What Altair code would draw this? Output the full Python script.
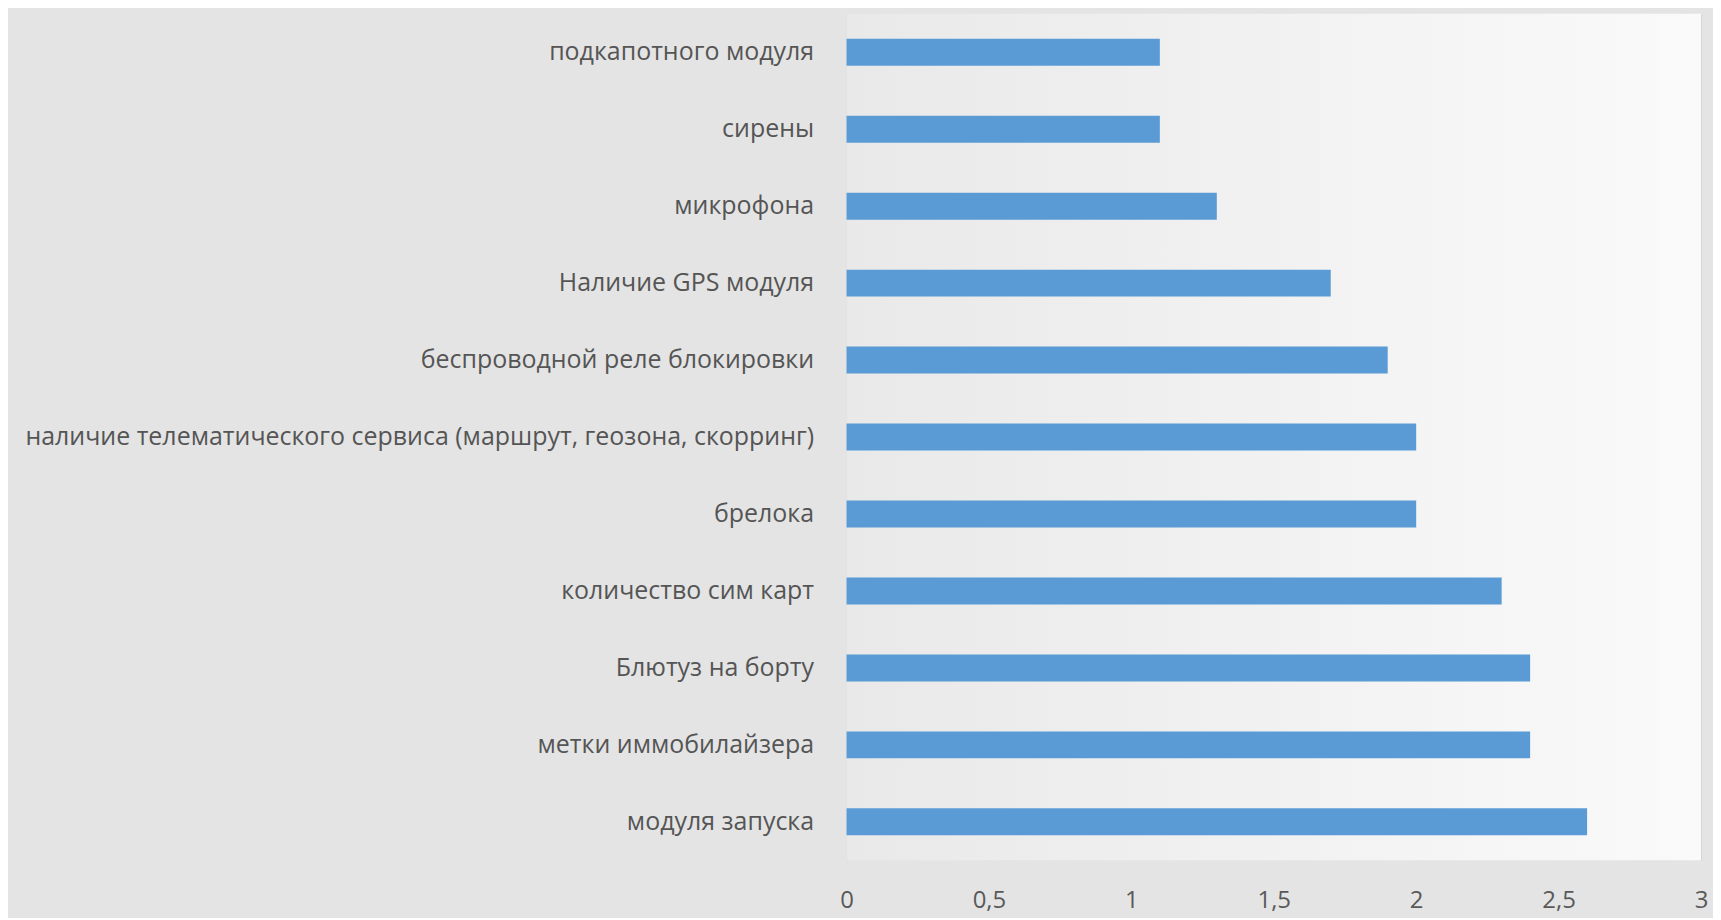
import altair as alt
import pandas as pd

categories = [
    "подкапотного модуля",
    "сирены",
    "микрофона",
    "Наличие GPS модуля",
    "беспроводной реле блокировки",
    "наличие телематического сервиса (маршрут, геозона, скорринг)",
    "брелока",
    "количество сим карт",
    "Блютуз на борту",
    "метки иммобилайзера",
    "модуля запуска",
]
values = [1.1, 1.1, 1.3, 1.7, 1.9, 2.0, 2.0, 2.3, 2.4, 2.4, 2.6]
ticks = [0, 0.5, 1, 1.5, 2, 2.5, 3]

df = pd.DataFrame({"category": categories, "value": values})

W, H = 856, 848

bg = alt.Chart(pd.DataFrame({"d": [0]})).mark_rect(
    color=alt.Gradient(
        gradient="linear",
        stops=[alt.GradientStop(color="#e9e9e9", offset=0),
               alt.GradientStop(color="#fafafa", offset=1)],
        x1=0, x2=1, y1=0, y2=0,
    )
).encode(x=alt.value(0), x2=alt.value("width"), y=alt.value(0), y2=alt.value("height"))

bars = alt.Chart(df).mark_bar(color="#5B9BD5", size=27).encode(
    x=alt.X("value:Q", scale=alt.Scale(domain=[0, 3]),
            axis=alt.Axis(values=ticks, title=None,
                          labelExpr="replace(toString(datum.value), '.', ',')",
                          grid=True, gridColor="#d4d4d4", domain=False, ticks=False,
                          labelFlush=False,
                          labelFontSize=24, labelColor="#595959", labelPadding=28,
                          labelFont="Open Sans")),
    y=alt.Y("category:N", sort=categories, title=None,
            axis=alt.Axis(domain=False, ticks=False, labelFontSize=25,
                          labelColor="#555555", labelPadding=33, labelLimit=900,
                          labelFont="Open Sans")),
)

chart = alt.layer(bg, bars).properties(
    width=W, height=H,
    background="#e4e4e4",
    padding={"left": 840, "top": 5, "right": 12, "bottom": 57},
    autosize=alt.AutoSizeParams(type="none"),
).configure_view(stroke=None)

chart.save("out.html", embed_options={"renderer": "svg", "actions": False})
